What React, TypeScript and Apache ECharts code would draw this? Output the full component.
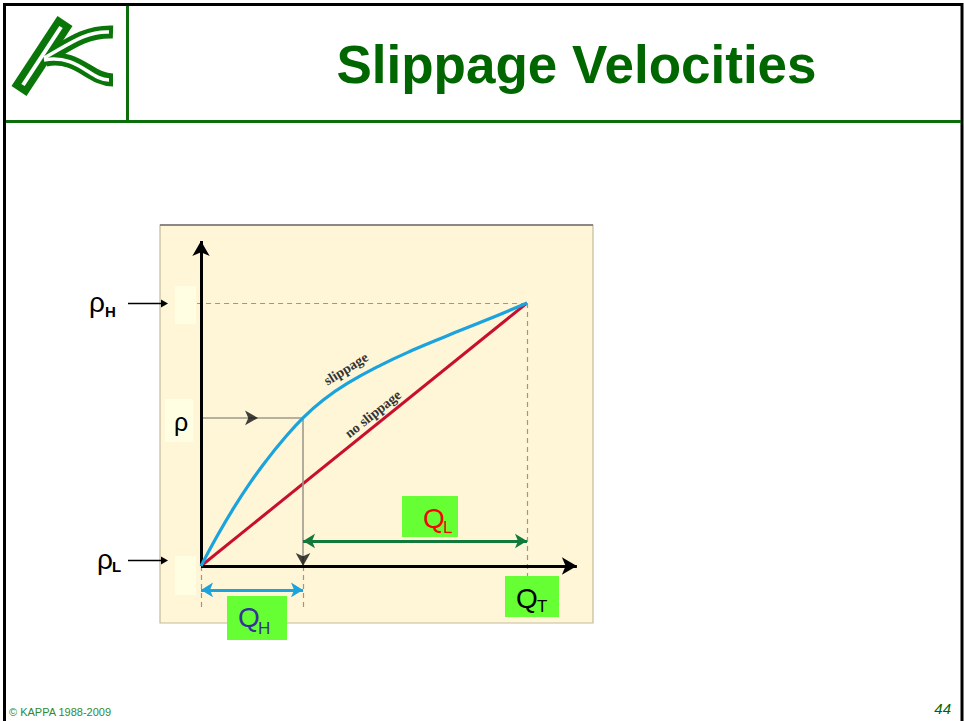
import React, { useEffect, useRef } from "react";
import * as echarts from "echarts";

// Flow-rate fraction (Q / QT) against normalised mixture density (ρ − ρL) / (ρH − ρL)
const slipQ = [0, 0.05, 0.1, 0.15, 0.2, 0.25, 0.313, 0.375, 0.45, 0.55, 0.65, 0.75, 0.875, 1.0];
const slipRho = [0, 0.115, 0.22, 0.315, 0.4, 0.477, 0.563, 0.631, 0.695, 0.763, 0.821, 0.873, 0.935, 1.0];
const noSlipQ = [0, 1];
const noSlipRho = [0, 1];

// Key levels
const Q_H = 0.313; // heavy-phase rate
const Q_T = 1; // total rate
const RHO_MID = 0.563; // measured density, on the slippage curve at Q_H
const RHO_H = 1;
const RHO_L = 0;

// Axis extents (data units)
const X_MIN = -0.125;
const X_MAX = 1.2;
const Y_MIN = -0.25;
const Y_MAX = 1.25;
const X_ARROW = 1.153;
const Y_ARROW = 1.236;
const GUIDE_BOTTOM = -0.17;
const QH_LEVEL = -0.091;
const QL_LEVEL = 0.095;
const RHO_HEAD_Q = 0.175;

// Pixel frame of the plot
const ORIGIN_X = 201;
const ORIGIN_Y = 566;
const PX_X = 326;
const PX_Y = 263;

const GREEN = "#0B6E0B";
const BOX = "#66FF33";
const SANS = '"Liberation Sans", Arial, sans-serif';

const seg = (a: number[], b: number[]) => [{ coord: a }, { coord: b }];

const markSeries = (
  data: any[],
  lineStyle: any,
  symbol: string[] = ["none", "none"],
  symbolSize: number[] = [10, 10],
  z = 3
) => ({
  type: "line",
  data: [],
  silent: true,
  z,
  markLine: {
    silent: true,
    animation: false,
    symbol,
    symbolSize,
    label: { show: false },
    emphasis: { disabled: true },
    lineStyle,
    data,
  },
});

const sub = (x: number, y: number, text: string, size: number, color: string, weight = "normal") => ({
  type: "text",
  x,
  y,
  z: 12,
  style: {
    text,
    font: `${weight} ${size}px ${SANS}`,
    fill: color,
    align: "left",
    verticalAlign: "middle",
  },
});

const qBox = (x: number, y: number, w: number, h: number, color: string, main: number[], subPos: number[], subText: string) => [
  { type: "rect", z: 11, shape: { x, y, width: w, height: h }, style: { fill: BOX } },
  sub(main[0], main[1], "Q", 28, color),
  sub(subPos[0], subPos[1], subText, 17, color),
];

const logoGreen = { stroke: "#0A760A", lineWidth: 18, fill: "none", lineCap: "butt" };
const logoWhite = { stroke: "#ffffff", lineWidth: 4, fill: "none", lineCap: "butt" };

const graphic: any[] = [
  // panel behind the plot
  { type: "rect", z: -10, shape: { x: 160, y: 225, width: 433, height: 398 }, style: { fill: "#FFF5D7", stroke: "#C4BA9E", lineWidth: 1.2 } },
  { type: "line", z: -9, shape: { x1: 160, y1: 225, x2: 593, y2: 225 }, style: { stroke: "#6E6E6E", lineWidth: 1.5 } },
  // pale label pads
  { type: "rect", z: -8, shape: { x: 175, y: 286, width: 21, height: 38 }, style: { fill: "#FFFDE2" } },
  { type: "rect", z: -8, shape: { x: 165, y: 399, width: 28, height: 43 }, style: { fill: "#FFFDE2" } },
  { type: "rect", z: -8, shape: { x: 175, y: 556, width: 21, height: 39 }, style: { fill: "#FFFDE2" } },

  // slide frame
  { type: "rect", z: 20, shape: { x: 4.5, y: 4.5, width: 957.5, height: 740 }, style: { fill: "none", stroke: "#000", lineWidth: 3 } },
  { type: "line", z: 20, shape: { x1: 6, y1: 121.5, x2: 961, y2: 121.5 }, style: { stroke: GREEN, lineWidth: 3 } },
  { type: "line", z: 20, shape: { x1: 127.5, y1: 6, x2: 127.5, y2: 121 }, style: { stroke: GREEN, lineWidth: 3 } },

  // logo
  { type: "line", z: 20, shape: { x1: 19, y1: 91, x2: 65, y2: 21 }, style: logoGreen },
  { type: "bezierCurve", z: 20, shape: { x1: 46, y1: 58, cpx1: 68, cpy1: 45, cpx2: 85, cpy2: 31, x2: 113, y2: 32 }, style: { ...logoGreen, lineWidth: 13 } },
  { type: "bezierCurve", z: 20, shape: { x1: 46, y1: 60, cpx1: 78, cpy1: 54, cpx2: 90, cpy2: 80, x2: 113, y2: 80 }, style: { ...logoGreen, lineWidth: 13 } },
  { type: "line", z: 21, shape: { x1: 23, y1: 85, x2: 61, y2: 27 }, style: logoWhite },
  { type: "bezierCurve", z: 21, shape: { x1: 44, y1: 58, cpx1: 68, cpy1: 45, cpx2: 85, cpy2: 31, x2: 109, y2: 32 }, style: { ...logoWhite, lineWidth: 3.5 } },
  { type: "bezierCurve", z: 21, shape: { x1: 44, y1: 60, cpx1: 78, cpy1: 54, cpx2: 90, cpy2: 80, x2: 109, y2: 80 }, style: { ...logoWhite, lineWidth: 3.5 } },

  // title
  {
    type: "text",
    x: 576.5,
    y: 64,
    z: 20,
    style: { text: "Slippage Velocities", font: `bold 53px ${SANS}`, fill: "#006600", align: "center", verticalAlign: "middle" },
  },

  // density labels
  sub(89, 302, "ρ", 28, "#000"),
  sub(105, 311, "H", 15, "#000", "bold"),
  { type: "line", z: 12, shape: { x1: 128, y1: 303.5, x2: 162, y2: 303.5 }, style: { stroke: "#000", lineWidth: 1.5 } },
  { type: "polygon", z: 12, shape: { points: [[161, 299.5], [168, 303.5], [161, 307.5]] }, style: { fill: "#000" } },
  sub(174, 422, "ρ", 25, "#000"),
  sub(97, 559, "ρ", 28, "#000"),
  sub(112, 566.5, "L", 15, "#000", "bold"),
  { type: "line", z: 12, shape: { x1: 128, y1: 560.5, x2: 162, y2: 560.5 }, style: { stroke: "#000", lineWidth: 1.5 } },
  { type: "polygon", z: 12, shape: { points: [[161, 556.5], [168, 560.5], [161, 564.5]] }, style: { fill: "#000" } },

  // curve names
  {
    type: "text",
    x: 346,
    y: 369,
    z: 12,
    rotation: (32 * Math.PI) / 180,
    style: { text: "slippage", font: 'bold 14px "Liberation Serif", serif', fill: "#333", align: "center", verticalAlign: "middle" },
  },
  {
    type: "text",
    x: 373,
    y: 414,
    z: 12,
    rotation: (38.5 * Math.PI) / 180,
    style: { text: "no slippage", font: 'bold 14px "Liberation Serif", serif', fill: "#333", align: "center", verticalAlign: "middle" },
  },

  // rate labels
  ...qBox(402, 496, 56, 41, "#FF0000", [423, 518], [443, 527.5], "L"),
  ...qBox(505, 576, 54, 41, "#000000", [516, 598], [537, 606.5], "T"),
  ...qBox(227, 596, 60, 44, "#333399", [238, 617.5], [258, 628.5], "H"),

  // footer
  {
    type: "text",
    x: 9,
    y: 712,
    z: 20,
    style: { text: "© KAPPA 1988-2009", font: `11px ${SANS}`, fill: "#2E8B2E", align: "left", verticalAlign: "middle" },
  },
  {
    type: "text",
    x: 951,
    y: 708.5,
    z: 20,
    style: { text: "44", font: `italic 15px ${SANS}`, fill: "#006600", align: "right", verticalAlign: "middle" },
  },
];

const option: any = {
  animation: false,
  backgroundColor: "#ffffff",
  grid: {
    left: ORIGIN_X + X_MIN * PX_X,
    top: ORIGIN_Y - Y_MAX * PX_Y,
    width: (X_MAX - X_MIN) * PX_X,
    height: (Y_MAX - Y_MIN) * PX_Y,
    containLabel: false,
  },
  xAxis: { type: "value", min: X_MIN, max: X_MAX, show: false },
  yAxis: { type: "value", min: Y_MIN, max: Y_MAX, show: false },
  tooltip: { show: false },
  graphic,
  series: [
    // dashed reference lines at ρH and QT, and drop lines below the axis
    markSeries(
      [
        seg([-0.012, RHO_H], [Q_T, RHO_H]),
        seg([Q_T, RHO_H], [Q_T, GUIDE_BOTTOM]),
        seg([0, RHO_L], [0, GUIDE_BOTTOM]),
        seg([Q_H, RHO_L], [Q_H, GUIDE_BOTTOM]),
      ],
      { color: "#979797", width: 1.2, type: [5, 4] },
      ["none", "none"],
      [10, 10],
      2
    ),
    // solid read-off lines from ρ to the curve and down to QH
    markSeries(
      [seg([0, RHO_MID], [Q_H, RHO_MID]), seg([Q_H, RHO_MID], [Q_H, RHO_L])],
      { color: "#9E9A8C", width: 1.6, type: "solid" },
      ["none", "none"],
      [10, 10],
      2
    ),
    {
      type: "line",
      name: "no slippage",
      data: noSlipQ.map((q, i) => [q, noSlipRho[i]]),
      symbol: "none",
      silent: true,
      z: 4,
      lineStyle: { color: "#C8102E", width: 3 },
    },
    {
      type: "line",
      name: "slippage",
      data: slipQ.map((q, i) => [q, slipRho[i]]),
      smooth: 0.45,
      symbol: "none",
      silent: true,
      z: 5,
      lineStyle: { color: "#1BA3DD", width: 3.2 },
    },
    // axes
    markSeries(
      [seg([0, 0], [X_ARROW, 0]), seg([0, 0], [0, Y_ARROW])],
      { color: "#000", width: 3, type: "solid" },
      ["none", "arrow"],
      [13, 15],
      6
    ),
    // QH span
    markSeries(
      [seg([0, QH_LEVEL], [Q_H, QH_LEVEL])],
      { color: "#1BA3DD", width: 3, type: "solid" },
      ["arrow", "arrow"],
      [11, 12],
      6
    ),
    // QL span
    markSeries(
      [seg([Q_H, QL_LEVEL], [Q_T, QL_LEVEL])],
      { color: "#117A3A", width: 3, type: "solid" },
      ["arrow", "arrow"],
      [11, 12],
      6
    ),
    // direction heads on the read-off lines
    {
      type: "scatter",
      silent: true,
      z: 7,
      symbol: "arrow",
      symbolSize: [11, 13],
      itemStyle: { color: "#111" },
      data: [
        { value: [RHO_HEAD_Q, RHO_MID], symbolRotate: -90 },
        { value: [Q_H, 0], symbolRotate: 180 },
      ],
    },
  ],
};

export default function App() {
  const ref = useRef<HTMLDivElement>(null);
  useEffect(() => {
    const chart = echarts.init(ref.current as HTMLDivElement, null, { renderer: "svg" });
    chart.setOption(option);
    return () => chart.dispose();
  }, []);
  return (
    <div
      ref={ref}
      style={{ position: "absolute", left: 0, top: 0, width: 964, height: 721, background: "#fff" }}
    />
  );
}
